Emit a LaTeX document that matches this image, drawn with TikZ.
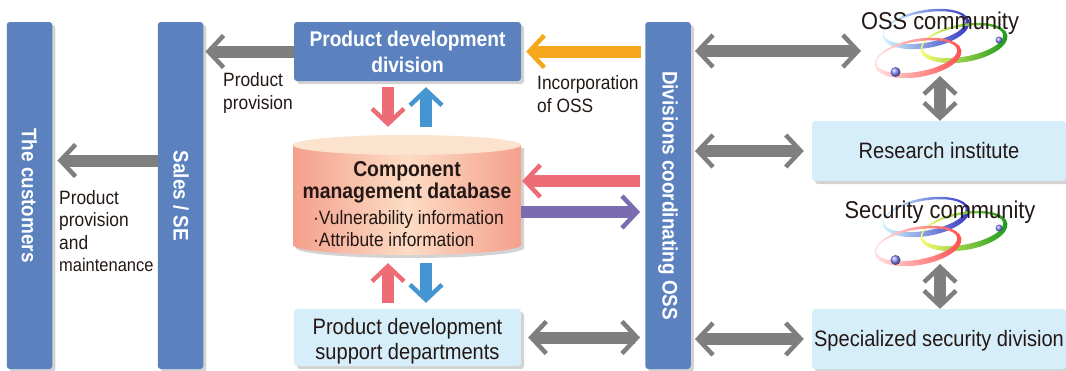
\documentclass[tikz,border=0pt]{standalone}
\usepackage{fontspec}
\setmainfont{Liberation Sans}[FakeStretch=0.9]
\usepackage{xcolor}
\usetikzlibrary{arrows.meta, shadows}

\definecolor{boxblue}{HTML}{5B82BF}
\definecolor{paleblue}{HTML}{D6EEFA}
\definecolor{inkdark}{HTML}{231815}
\definecolor{arrowgray}{HTML}{7F7F7F}
\definecolor{arrowpink}{HTML}{EE6C75}
\definecolor{arrowblue}{HTML}{4495D1}
\definecolor{arroworange}{HTML}{F5A81C}
\definecolor{arrowpurple}{HTML}{7B6BB0}
\definecolor{dbedge}{HTML}{F4A08C}
\definecolor{dbmiddle}{HTML}{FDDCC5}
\definecolor{dbtop}{HTML}{FBE3CE}

\tikzset{
  ossrings/.pic={
    \shade[even odd rule, shift={(-14,-15)}, rotate=10, left color=blue!10!cyan!18, right color=blue!70!black!80]
      (0,0) ellipse (44pt and 19pt) (-1,-1.5) ellipse (41.5pt and 15pt);
    \shade[even odd rule, shift={(24,-1)}, rotate=10, left color=yellow!55!white, right color=green!55!black!90]
      (0,0) ellipse (44pt and 19pt) (-1,-1.5) ellipse (41pt and 15pt);
    \shade[even odd rule, shift={(-22,14)}, rotate=10, left color=red!10, right color=red!70!white]
      (0,0) ellipse (44pt and 19pt) (-1,-1.5) ellipse (41pt and 15pt);
    \shade[ball color=blue!45!white] (-44.5,28) circle (5pt);
    \shade[ball color=blue!45!white] (59,-4) circle (3.5pt);
  }
}

\begin{document}
\begin{tikzpicture}[
  x=1pt, y=-1pt,
  softshadow/.style={drop shadow={shadow xshift=3pt, shadow yshift=-3pt, opacity=0.35}},
  title/.style={
    rectangle,
    fill=boxblue,
    text=white,
    rounded corners=3pt,
    softshadow,
    inner sep=0pt,
    font=\fontsize{21.3}{26}\selectfont\bfseries,
    align=center
  },
  side/.style={title, minimum width=45.5pt, minimum height=347pt},
  sidetext/.style={rotate=-90, text=white, inner sep=0pt, font=\fontsize{21}{26}\selectfont\bfseries},
  plain/.style={
    rectangle,
    fill=paleblue,
    text=inkdark,
    rounded corners=3pt,
    softshadow,
    inner sep=0pt,
    font=\fontsize{22.3}{25}\selectfont,
    align=center
  },
  community/.style={text=inkdark, inner sep=0pt, font=\fontsize{24.3}{28}\selectfont},
  note/.style={text=inkdark, inner sep=0pt, anchor=west, align=left, font=\fontsize{19.3}{22.5}\selectfont},
  dbtext/.style={text=inkdark, inner sep=0pt, font=\fontsize{19.3}{20}\selectfont},
  flow/.style={
    line width=12pt,
    draw=#1,
    arrows={-Straight Barb[line width=4.5pt, length=15pt, width=32pt]}
  },
  twoway/.style={
    flow=arrowgray,
    arrows={Straight Barb[line width=4.5pt, length=15pt, width=32pt]-Straight Barb[line width=4.5pt, length=15pt, width=32pt]}
  }
]
\useasboundingbox (0,0) rectangle (1066,370);

% Logos go under the community labels
\pic at (940,44) {ossrings};
\pic at (940,232) {ossrings};

% Vertical bars
\node[side] (customers) at (29.5,195.5) {};
\node[side] (sales) at (180.5,195.5) {};
\node[side] (coord) at (668,195.5) {};
\node[sidetext] (customerstext) at (customers) {The customers};
\node[sidetext] (salestext) at (181,196) {Sales / SE};
\node[sidetext] (coordtext) at (coord) {Divisions coordinating OSS};

% Middle column
\node[title, minimum width=227pt, minimum height=59pt] (pd) at (407.5,51.5) {Product development\\division};
\node[plain, minimum width=227pt, minimum height=57pt] (support) at (407.5,337.5) {\rule{0pt}{24pt}Product development\\support departments};

% Database
\shade[softshadow, left color=dbedge, right color=dbedge, middle color=dbmiddle]
  (293,145) -- (293,245) arc[start angle=180, end angle=360, x radius=114pt, y radius=10pt] -- (521,145) -- cycle;
\fill[dbtop] (407,145) ellipse (114pt and 10pt);
\node[minimum width=228pt, minimum height=120pt, inner sep=0pt] (db) at (407,195) {};
\node[dbtext, font=\fontsize{21.5}{22.5}\selectfont\bfseries, align=center] (dbname) at (407,182.5) {Component\\management database};
\node[dbtext, anchor=west] (vuln) at (313,220) {·Vulnerability information};
\node[dbtext, anchor=west] (attr) at (313,240) {·Attribute information};

% Right column
\node[plain, minimum width=254pt, minimum height=60pt] (research) at (939,151) {Research institute};
\node[plain, minimum width=254pt, minimum height=60pt] (special) at (939,339) {\rule{0pt}{20pt}Specialized security division};
\node[community] (oss) at (940,23) {OSS community};
\node[community] (security) at (940,212) {Security community};
\coordinate (ossport) at (861,51);
\coordinate (osslow) at (940,76);
\coordinate (seclow) at (940,264);

% Descriptive labels
\node[note] (provone) at (223,93) {Product\\provision};
\node[note] (provtwo) at (59,231) {Product\\provision\\and\\{\fontsize{18.3}{22.5}\selectfont maintenance}};
\node[note] (incorp) at (537,94) {Incorporation\\of OSS};

% Arrows
\draw[flow=arrowgray, shorten >=2pt] (pd.west) -- (sales.east |- pd.west);
\draw[flow=arrowgray, shorten >=5pt] ([yshift=35pt]sales.west) -- ([yshift=35pt]customers.east);
\draw[flow=arroworange, shorten <=4pt, shorten >=5pt] (coord.west |- pd.east) -- (pd.east);
\draw[flow=arrowpink, shorten <=6pt, shorten >=8pt] ([xshift=-19.5pt]pd.south) -- ([xshift=-19.5pt]pd.south |- db.north);
\draw[flow=arrowblue, shorten <=8pt, shorten >=6pt] ([xshift=18.5pt]pd.south |- db.north) -- ([xshift=18.5pt]pd.south);
\draw[flow=arrowpink, shorten <=6pt, shorten >=8pt] ([xshift=-19.5pt]support.north) -- ([xshift=-19.5pt]support.north |- db.south);
\draw[flow=arrowblue, shorten <=8pt, shorten >=6pt] ([xshift=18.5pt]support.north |- db.south) -- ([xshift=18.5pt]support.north);
\draw[flow=arrowpink, shorten <=5pt, shorten >=1pt] ([yshift=14.5pt]coord.west) -- ([yshift=14.5pt]coord.west -| db.east);
\draw[flow=arrowpurple, shorten >=5pt] ([yshift=-16.5pt]coord.west -| db.east) -- ([yshift=-16.5pt]coord.west);
\draw[twoway, shorten <=7pt, shorten >=5pt] (support.east) -- (coord.west |- support.east);
\draw[twoway, shorten <=4pt, shorten >=8pt] (coord.east |- special.west) -- (special.west);
\draw[twoway, shorten <=4pt, shorten >=8pt] (coord.east |- research.west) -- (research.west);
\draw[twoway, shorten <=4pt] (coord.east |- ossport) -- (ossport);
\draw[twoway] (osslow) -- (osslow |- research.north);
\draw[twoway] (seclow) -- (seclow |- special.north);
\end{tikzpicture}
\end{document}
